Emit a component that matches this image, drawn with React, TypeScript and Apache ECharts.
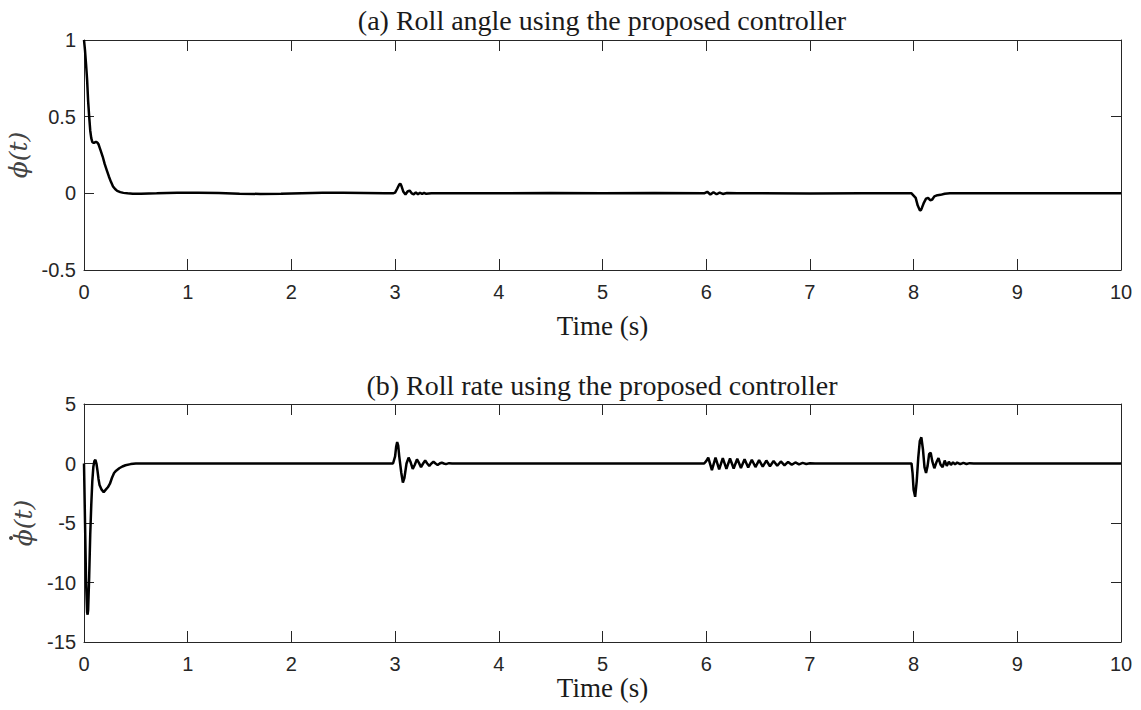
import React, { useEffect, useRef } from "react";
import * as echarts from "echarts";

// ---------- data ----------
const titleA = "(a) Roll angle using the proposed controller";
const titleB = "(b) Roll rate using the proposed controller";
const xName = "Time (s)";
const yNameA = "\u03D5(t)";
const yNameB = "\u03D5(t)"; // the derivative dot is added as a small graphic mark

const timeA = [
  0, 0.01, 0.02, 0.03, 0.04, 0.05, 0.06, 0.07, 0.08, 0.09, 0.1, 0.11, 0.12, 0.13, 0.14, 0.15, 0.16,
  0.18, 0.2, 0.22, 0.24, 0.26, 0.28, 0.3, 0.32, 0.35, 0.38, 0.42, 0.47, 0.55, 0.7, 0.9, 1.1, 1.3,
  1.5, 1.7, 1.9, 2.1, 2.3, 2.5, 2.7, 2.9, 2.98, 3.0, 3.02, 3.04, 3.05, 3.06, 3.08, 3.1, 3.12, 3.14,
  3.16, 3.18, 3.2, 3.22, 3.24, 3.26, 3.28, 3.3, 3.35, 3.5, 4, 4.5, 5, 5.5, 5.98, 6.01, 6.04, 6.07,
  6.1, 6.13, 6.16, 6.2, 6.3, 6.5, 7, 7.5, 7.98, 8.02, 8.04, 8.06, 8.07, 8.08, 8.1, 8.12, 8.14, 8.16,
  8.18, 8.2, 8.23, 8.26, 8.3, 8.35, 8.5, 9, 9.5, 10,
];
const rollAngle = [
  1.0, 0.93, 0.84, 0.74, 0.6, 0.5, 0.41, 0.36, 0.335, 0.33, 0.33, 0.335, 0.335, 0.33, 0.32, 0.3, 0.28,
  0.24, 0.19, 0.15, 0.11, 0.075, 0.045, 0.028, 0.016, 0.008, 0.003, 0.0, -0.002, -0.002, 0.0, 0.003, 0.004, 0.002,
  -0.002, -0.004, -0.003, 0.0, 0.003, 0.004, 0.002, 0.0, 0.0, 0.005, 0.03, 0.058, 0.063, 0.05, 0.01, -0.008, 0.012, 0.018,
  0.0, -0.006, 0.006, -0.006, 0.004, -0.004, 0.003, -0.003, 0.0, 0.0, 0.001, 0.002, 0.001, 0.002, 0.0, 0.01, -0.008, 0.007,
  -0.006, 0.005, -0.004, 0.002, 0.0, 0.0, -0.001, 0.0, 0.0, -0.03, -0.08, -0.11, -0.11, -0.095, -0.06, -0.035, -0.03, -0.045,
  -0.04, -0.02, -0.012, -0.01, -0.003, 0.0, 0.0, 0.0, 0.0, 0.0,
];

const timeB = [
  0, 0.01, 0.02, 0.03, 0.035, 0.04, 0.05, 0.06, 0.07, 0.08, 0.09, 0.1, 0.11, 0.12, 0.13, 0.14, 0.15,
  0.17, 0.19, 0.21, 0.23, 0.25, 0.27, 0.29, 0.31, 0.34, 0.37, 0.4, 0.45, 0.5, 1, 2, 2.98,
  3.0, 3.01, 3.02, 3.03, 3.04, 3.06, 3.075, 3.09, 3.11, 3.13, 3.15, 3.17, 3.19, 3.21, 3.23, 3.25,
  3.27, 3.29, 3.31, 3.33, 3.35, 3.37, 3.39, 3.41, 3.43, 3.45, 3.47, 3.49, 3.52, 3.55, 4, 5, 5.98,
  6.0, 6.02, 6.055, 6.09, 6.125, 6.16, 6.195, 6.23, 6.265, 6.3, 6.335, 6.37, 6.405, 6.44, 6.475,
  6.51, 6.545, 6.58, 6.615, 6.65, 6.685, 6.72, 6.755, 6.79, 6.825, 6.86, 6.895, 6.93, 6.965, 7.0, 7.05,
  7.98, 7.99, 8.0, 8.015, 8.03, 8.045, 8.06, 8.075, 8.09, 8.105, 8.12, 8.135, 8.15, 8.165, 8.18, 8.2,
  8.22, 8.24, 8.26, 8.28, 8.3, 8.32, 8.34, 8.36, 8.38, 8.4, 8.42, 8.45, 8.48, 8.51, 8.54, 8.58, 9, 10,
];
const rollRate = [
  0, -5, -10, -12.5, -12.7, -12.3, -9.5, -6, -3.5, -1.5, -0.3, 0.2, 0.3, 0.0, -0.6, -1.3, -1.8,
  -2.2, -2.4, -2.2, -2.0, -1.7, -1.2, -0.8, -0.6, -0.4, -0.25, -0.15, -0.05, 0, 0, 0, 0,
  0.6, 1.4, 1.8, 1.5, 0.6, -0.8, -1.6, -1.2, 0.0, 0.5, 0.1, -0.45, -0.1, 0.35, 0.05, -0.3,
  0.0, 0.25, 0.0, -0.2, 0, 0.15, 0, -0.12, 0, 0.08, 0, -0.05, 0.03, 0, 0, 0, 0,
  0.2, 0.5, -0.55, 0.5, -0.5, 0.45, -0.45, 0.42, -0.42, 0.4, -0.38, 0.36, -0.34, 0.32, -0.3,
  0.28, -0.27, 0.25, -0.23, 0.21, -0.19, 0.17, -0.15, 0.13, -0.11, 0.09, -0.07, 0.05, -0.04, 0.02, 0,
  0, -0.8, -2.2, -2.8, -1.5, 0.5, 1.9, 2.2, 1.2, -0.3, -0.8, -0.2, 0.8, 0.9, 0.2, -0.4,
  0.1, 0.45, -0.1, -0.3, 0.25, -0.2, 0.15, -0.12, 0.1, -0.07, 0.08, -0.06, 0.05, -0.04, 0.03, 0, 0, 0,
];

const yRangeA = { min: -0.5, max: 1, interval: 0.5 };
const yRangeB = { min: -15, max: 5, interval: 5 };
const xRange = { min: 0, max: 10, interval: 1 };

// ---------- styling ----------
const axisColor = "#262626";
const textColor = "#1a1a1a";
const nameColor = "#444";
const serif = "'Liberation Serif', 'Times New Roman', serif";
const mathSerif = "'DejaVu Serif', serif";
const sans = "'Liberation Sans', Arial, sans-serif";

function xAxesFor(gridIndex: number, nameGap: number) {
  const common = {
    type: "value" as const,
    gridIndex,
    ...xRange,
    splitLine: { show: false },
    axisLine: { show: true, onZero: false, lineStyle: { color: axisColor, width: 1 } },
    axisTick: { show: true, inside: true, length: 11, lineStyle: { color: axisColor, width: 1 } },
  };
  return [
    {
      ...common,
      position: "bottom",
      axisLabel: { color: axisColor, fontSize: 20, fontFamily: sans, margin: 12 },
      name: xName,
      nameLocation: "middle",
      nameGap,
      nameTextStyle: { color: textColor, fontSize: 27, fontFamily: serif },
    },
    { ...common, position: "top", axisLabel: { show: false } },
  ];
}

function yAxesFor(gridIndex: number, range: any, name: string) {
  const common = {
    type: "value" as const,
    gridIndex,
    ...range,
    splitLine: { show: false },
    axisLine: { show: true, onZero: false, lineStyle: { color: axisColor, width: 1 } },
    axisTick: { show: true, inside: true, length: 10, lineStyle: { color: axisColor, width: 1 } },
  };
  return [
    {
      ...common,
      position: "left",
      axisLabel: { color: axisColor, fontSize: 20, fontFamily: sans, margin: 8 },
      name,
      nameLocation: "middle",
      nameRotate: 90,
      nameGap: 33,
      nameTextStyle: { color: nameColor, fontSize: 25, fontFamily: mathSerif, fontStyle: "italic" },
    },
    { ...common, position: "right", axisLabel: { show: false } },
  ];
}

const seriesA = timeA.map((t, i) => [t, rollAngle[i]]);
const seriesB = timeB.map((t, i) => [t, rollRate[i]]);

export default function App() {
  const ref = useRef<HTMLDivElement>(null);
  useEffect(() => {
    const chart = echarts.init(ref.current!, null, { renderer: "svg" });
    chart.setOption({
      animation: false,
      backgroundColor: "#ffffff",
      title: [
        {
          text: titleA,
          left: 602,
          top: 6,
          textAlign: "center",
          padding: 0,
          textStyle: { color: textColor, fontSize: 28, fontWeight: "normal", fontFamily: serif },
        },
        {
          text: titleB,
          left: 602,
          top: 371,
          textAlign: "center",
          padding: 0,
          textStyle: { color: textColor, fontSize: 28, fontWeight: "normal", fontFamily: serif },
        },
      ],
      grid: [
        { left: 84, top: 40, width: 1037, height: 230, show: false, outerBoundsMode: "none", containLabel: false },
        { left: 84, top: 404, width: 1037, height: 238, show: false, outerBoundsMode: "none", containLabel: false },
      ],
      xAxis: [...xAxesFor(0, 42), ...xAxesFor(1, 32)],
      yAxis: [...yAxesFor(0, yRangeA, yNameA), ...yAxesFor(1, yRangeB, yNameB)],
      graphic: [
        // derivative dot above the phi of the lower y-axis label
        { type: "circle", shape: { cx: 11, cy: 538, r: 2 }, style: { fill: nameColor } },
      ],
      series: [
        {
          type: "line",
          xAxisIndex: 0,
          yAxisIndex: 0,
          data: seriesA,
          showSymbol: false,
          lineStyle: { color: "#000", width: 2.5 },
        },
        {
          type: "line",
          xAxisIndex: 2,
          yAxisIndex: 2,
          data: seriesB,
          showSymbol: false,
          lineStyle: { color: "#000", width: 2.5 },
        },
      ],
    });
    return () => chart.dispose();
  }, []);
  return (
    <div
      ref={ref}
      style={{ position: "fixed", left: 0, top: 0, width: 1141, height: 710, background: "#fff" }}
    />
  );
}
